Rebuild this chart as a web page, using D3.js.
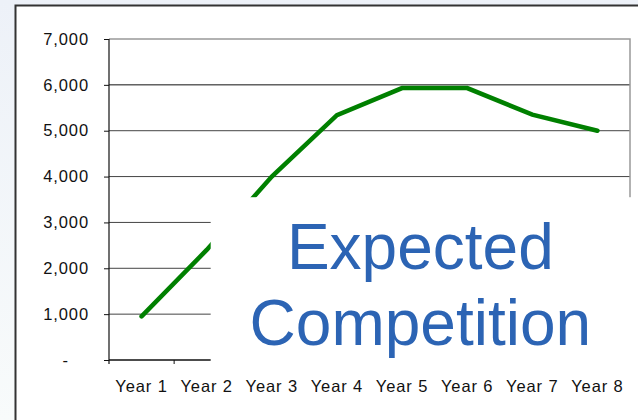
<html>
<head>
    <style>
        body {
            margin: 0;
            font-family: "Liberation Sans", Arial, sans-serif;
        }
        .axis text {
            font-size: 16.5px;
            letter-spacing: 0.9px;
            fill: #111;
        }
        .axis path {
            display: none;
        }
    </style>
    <script src="https://cdn.jsdelivr.net/npm/d3@7"></script>
</head>
<body>
    <div class="mainView"></div>
</body>
<script>
    // values
    let years = ["Year 1", "Year 2", "Year 3", "Year 4", "Year 5", "Year 6", "Year 7", "Year 8"];
    let competition = [950, 2400, 4000, 5340, 5930, 5930, 5350, 5000];
    let yTicks = [0, 1000, 2000, 3000, 4000, 5000, 6000, 7000];
    let boxLines = ["Expected", "Competition"];

    function getChartConfig() {
        let width = 638;
        let height = 420;
        let margin = { top: 39, bottom: 60, left: 109, right: 8 };
        let bodyWidth = width - margin.left - margin.right;
        let bodyHeight = height - margin.top - margin.bottom;
        let svg = d3.select(".mainView")
            .append("svg")
            .attr("width", width)
            .attr("height", height);

        // slide background
        let grad = svg.append("defs").append("linearGradient")
            .attr("id", "bg").attr("x1", 0).attr("y1", 0).attr("x2", 0).attr("y2", 1);
        grad.append("stop").attr("offset", "0%").attr("stop-color", "#edf1f8");
        grad.append("stop").attr("offset", "100%").attr("stop-color", "#f8fbfb");
        svg.append("rect").attr("width", width).attr("height", height).attr("fill", "url(#bg)");

        // white chart area with dark border
        svg.append("rect")
            .attr("x", 15.5).attr("y", 5.5)
            .attr("width", width).attr("height", height)
            .attr("fill", "white")
            .attr("stroke", "#333")
            .attr("stroke-width", 2);

        let container = svg.append("g")
            .attr("transform", "translate(" + [margin.left, margin.top] + ")");
        return { width, height, margin, bodyWidth, bodyHeight, svg, container };
    }

    function getChartScales(config) {
        let { bodyWidth, bodyHeight } = config;
        let xScale = d3.scaleBand()
            .domain(years)
            .range([0, bodyWidth]);
        let yScale = d3.scaleLinear()
            .domain([0, 7000])
            .range([bodyHeight, 0]);
        return { xScale, yScale };
    }

    function drawAxes(scales, config) {
        let { xScale, yScale } = scales;
        let { container, bodyWidth, bodyHeight } = config;

        // gridlines
        yTicks.slice(1, -1).forEach(t => {
            container.append("line")
                .attr("x1", 0).attr("x2", bodyWidth)
                .attr("y1", yScale(t)).attr("y2", yScale(t))
                .style("stroke", t == 6000 ? "#111" : "#444")
                .style("stroke-width", 1);
        });
        // top and right frame in grey
        container.append("path")
            .attr("d", "M0," + yScale(7000) + "H" + bodyWidth + "V" + bodyHeight)
            .attr("fill", "none")
            .style("stroke", "#999")
            .style("stroke-width", 1.5);

        let axisY = d3.axisLeft(yScale)
            .tickValues(yTicks)
            .tickSize(5)
            .tickPadding(15)
            .tickFormat(d => d == 0 ? "-" : d3.format(",")(d));
        let gy = container.append("g").attr("class", "axis").call(axisY);
        gy.selectAll("line").style("stroke", "#111");
        gy.selectAll(".tick").filter(d => d == 0).select("text").attr("x", -40);

        let axisX = d3.axisBottom(xScale)
            .tickSize(0)
            .tickPadding(20);
        let gx = container.append("g").attr("class", "axis")
            .attr("transform", "translate(0," + bodyHeight + ")")
            .call(axisX);

        // axis lines and boundary ticks
        container.append("line")
            .attr("x1", 0).attr("x2", 0)
            .attr("y1", 0).attr("y2", bodyHeight + 4)
            .style("stroke", "#111").style("stroke-width", 1.2);
        container.append("line")
            .attr("x1", 0).attr("x2", bodyWidth)
            .attr("y1", bodyHeight).attr("y2", bodyHeight)
            .style("stroke", "#111").style("stroke-width", 1.5);
        years.forEach(y => {
            container.append("line")
                .attr("x1", xScale(y) + xScale.bandwidth()).attr("x2", xScale(y) + xScale.bandwidth())
                .attr("y1", bodyHeight).attr("y2", bodyHeight + 4)
                .style("stroke", "#111");
        });
        return gx;
    }

    function drawLine(scales, config) {
        let { xScale, yScale } = scales;
        let { container } = config;
        let line = d3.line()
            .x((d, i) => xScale(years[i]) + xScale.bandwidth() / 2)
            .y(d => yScale(d));
        container.append("path")
            .datum(competition)
            .attr("d", line)
            .attr("fill", "none")
            .style("stroke", "#008000")
            .style("stroke-width", 4.5)
            .style("stroke-linecap", "round")
            .style("stroke-linejoin", "miter");
    }

    function drawBox(scales, config) {
        let { xScale, yScale } = scales;
        let { container, bodyWidth, bodyHeight } = config;
        let x0 = xScale("Year 2") + xScale.bandwidth() / 2 + 4;
        let y0 = yScale(3550);
        container.append("rect")
            .attr("x", x0).attr("y", y0)
            .attr("width", bodyWidth + 4 - x0)
            .attr("height", bodyHeight + 10 - y0)
            .attr("fill", "white");
        let cx = (x0 + bodyWidth) / 2;
        container.selectAll(".boxText")
            .data(boxLines)
            .enter()
            .append("text")
            .attr("class", "boxText")
            .attr("x", cx)
            .attr("y", (d, i) => y0 + 72 + i * 76)
            .attr("text-anchor", "middle")
            .style("font-size", "64px")
            .style("fill", "#2c64b4")
            .text(d => d);
    }

    function showData() {
        let config = getChartConfig();
        let scales = getChartScales(config);
        let gx = drawAxes(scales, config);
        drawLine(scales, config);
        drawBox(scales, config);
        gx.raise();
    }
    showData();
</script>
</html>
